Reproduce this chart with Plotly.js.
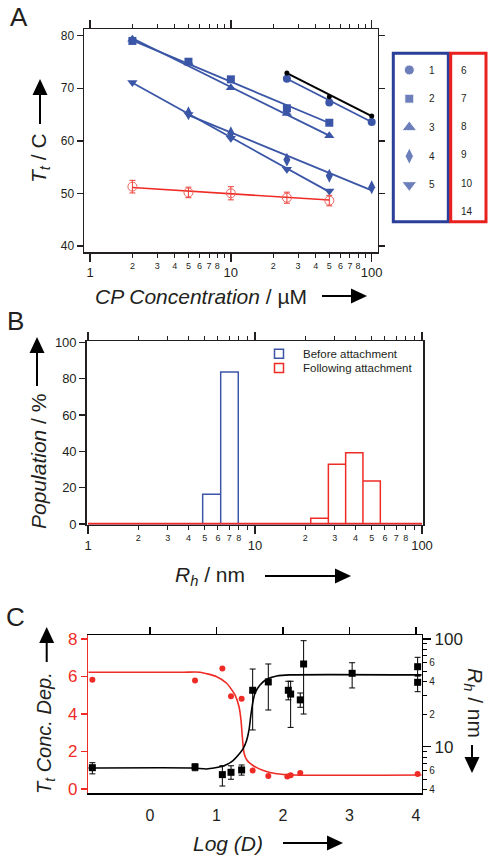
<!DOCTYPE html>
<html><head><meta charset="utf-8">
<script src="https://cdn.plot.ly/plotly-3.0.1.min.js"></script>
<style>html,body{margin:0;padding:0;background:#fff}#plot{width:493px;height:860px}</style>
</head><body><div id="plot"></div>
<script>
// ---------------- Panel A : Tt vs CP concentration ----------------
const a1X=[25,50,100],        a1Y=[71.8,67.3,63.6];              // 1 circles
const a2X=[2,5,10,25,50],     a2Y=[79.0,75.05,71.7,66.2,63.45];  // 2 squares
const a3X=[2,5,10,25,50],     a3Y=[79.3,74.9,70.1,65.2,61.0];    // 3 triangles up
const a4X=[5,10,25,50,100],   a4Y=[65.25,61.44,56.4,53.35,51.2]; // 4 diamonds
const a5X=[2,5,10,25,50],     a5Y=[71.1,65.0,60.5,54.6,50.45];   // 5 triangles down
const aBlkX=[25,50,100],      aBlkY=[72.9,68.4,64.75];           // black
const aRedX=[2,5,10,25,50],   aRedY=[51.3,50.2,50.04,49.2,48.65], aRedErr=[1.2,1.0,1.25,1.05,1.0];
// linear fits (end points)
const f1X=[25,100], f1Y=[71.8,63.6];
const f2X=[2,50],   f2Y=[79.1,63.4];
const f3X=[2,50],   f3Y=[79.5,61.0];
const f4X=[5,100],  f4Y=[64.9,50.6];
const f5X=[2,50],   f5Y=[71.05,50.3];
const fBlkX=[25,100], fBlkY=[72.9,64.7];
const fRedX=[2,50], fRedY=[51.15,48.75];
const legendBlue=['1','2','3','4','5'];
const legendRed=['6','7','8','9','10','14'];
const legendSymbols=['circle','square','triangle-up','diamond-tall','triangle-down'];

// ---------------- Panel B : Rh histograms ----------------
const blueEdges=[4.86,6.23,7.94],  blueHeights=[16.3,83.6];
const redEdges=[21.56,27.5,34.9,44.3,56.3], redHeights=[3.1,32.85,39.2,23.7];
const baseX=[1,100], baseY=[0,0];
const bLegend=['Before attachment','Following attachment'];

// ---------------- Panel C : vs Log(D) ----------------
const cRedX=[-0.867,0.677,1.088,1.218,1.378,1.544,1.779,2.065,2.115,2.26,4.025];
const cRedY=[5.83,5.78,6.42,4.95,4.81,0.99,0.69,0.67,0.74,0.85,0.80];
const cRhX=[-0.867,0.677,1.088,1.218,1.378,1.544,1.779,2.08,2.115,2.26,2.31,3.04,4.025,4.025];
const cRhY=[6.38,6.48,5.50,5.78,6.08,33.4,39.9,33.4,30.8,27.2,58.6,48.0,55.3,39.6];
const cRhErrP=[0.72,0.44,1.15,0.87,0.68,19.2,18.7,7.1,9.7,4.3,37.8,12.2,12.3,6.0];
const cRhErrM=[0.79,0.50,1.19,0.80,0.64,19.1,18.0,6.2,15.7,4.0,38.5,12.9,10.0,7.2];
const redFitX=[-0.928,0.5,0.752,1.003,1.153,1.278,1.338,1.368,1.388,1.414,1.454,1.554,1.704,1.905,2.155,4.086];
const redFitY=[6.23,6.23,6.23,5.99,5.64,5.02,4.40,3.69,2.80,1.92,1.56,1.24,0.99,0.81,0.745,0.745];
const rhFitX=[-0.928,0.652,0.852,1.103,1.228,1.328,1.403,1.454,1.489,1.514,1.544,1.579,1.654,1.755,1.905,2.105,4.086];
const rhFitY=[6.34,6.34,6.21,6.62,7.26,8.37,9.66,11.5,14.3,19.0,25.3,31.3,37.4,42.3,45.3,46.4,46.4];

// ---------------- helpers ----------------
const W=493, H=860;
const fx=p=>p/W, fy=p=>1-p/H;
const BLUE='#3b56a6', RED='#ee2b25', INK='#231f20';
const FT='Liberation Sans, Arial, sans-serif';
const traces=[];
function add(t){t.hoverinfo='skip';t.showlegend=false;traces.push(t);}

// Panel A traces
[[f1X,f1Y],[f2X,f2Y],[f3X,f3Y],[f4X,f4Y],[f5X,f5Y]].forEach(([x,y])=>add({x,y,xaxis:'x',yaxis:'y',mode:'lines',line:{color:BLUE,width:1.8}}));
add({x:fBlkX,y:fBlkY,xaxis:'x',yaxis:'y',mode:'lines',line:{color:'#000',width:2}});
add({x:fRedX,y:fRedY,xaxis:'x',yaxis:'y',mode:'lines',line:{color:RED,width:1.6}});
const aSeries=[[a1X,a1Y],[a2X,a2Y],[a3X,a3Y],[a4X,a4Y],[a5X,a5Y]];
const aSizes=[8,8,9,10,9];
aSeries.forEach(([x,y],i)=>add({x,y,xaxis:'x',yaxis:'y',mode:'markers',cliponaxis:false,marker:{symbol:legendSymbols[i],size:aSizes[i],color:BLUE}}));
add({x:aBlkX,y:aBlkY,xaxis:'x',yaxis:'y',mode:'markers',cliponaxis:false,marker:{symbol:'circle',size:5,color:'#000'}});
add({x:aRedX,y:aRedY,xaxis:'x',yaxis:'y',mode:'markers',cliponaxis:false,
  marker:{symbol:'circle-open',size:9,color:'#f0605a',line:{width:1}},
  error_y:{type:'data',array:aRedErr,visible:true,color:'#ec3b35',thickness:1,width:3}});
add({x:[],y:[],xaxis:'x2',yaxis:'y',mode:'markers'});

// Panel A legend glyphs (hidden axes)
add({x:legendBlue.map(()=>16.3),y:legendBlue.map((_,i)=>i),xaxis:'x7',yaxis:'y2',mode:'markers',cliponaxis:false,
  marker:{symbol:legendSymbols,size:[10,9,13,12,13],color:'#2f4a9e'}});

// Panel B traces
function outline(edges,heights){const x=[],y=[];heights.forEach((h,i)=>{x.push(edges[i],edges[i],edges[i+1],edges[i+1]);y.push(0,h,h,0);});return {x,y};}
add({x:baseX,y:baseY,xaxis:'x3',yaxis:'y3',mode:'lines',line:{color:BLUE,width:2}});
const ob=outline(blueEdges,blueHeights);
add({x:ob.x,y:ob.y,xaxis:'x3',yaxis:'y3',mode:'lines',line:{color:BLUE,width:1.5}});
add({x:baseX,y:baseY,xaxis:'x3',yaxis:'y3',mode:'lines',line:{color:RED,width:2.5}});
const orr=outline(redEdges,redHeights);
add({x:orr.x,y:orr.y,xaxis:'x3',yaxis:'y3',mode:'lines',line:{color:RED,width:1.5}});
add({x:[],y:[],xaxis:'x4',yaxis:'y3',mode:'markers'});
add({x:[9,9],y:[0,1],xaxis:'x8',yaxis:'y4',mode:'markers',cliponaxis:false,
  marker:{symbol:'square-open',size:9,color:[BLUE,RED],line:{width:1.5}}});

// Panel C traces
add({x:redFitX,y:redFitY,xaxis:'x5',yaxis:'y5',mode:'lines',line:{color:RED,width:1.6,shape:'spline',smoothing:0.6}});
add({x:rhFitX,y:rhFitY,xaxis:'x5',yaxis:'y6',mode:'lines',line:{color:'#000',width:1.6,shape:'spline',smoothing:0.6}});
add({x:cRedX,y:cRedY,xaxis:'x5',yaxis:'y5',mode:'markers',cliponaxis:false,marker:{symbol:'circle',size:6,color:RED}});
add({x:cRhX,y:cRhY,xaxis:'x5',yaxis:'y6',mode:'markers',cliponaxis:false,marker:{symbol:'square',size:7,color:'#000'},
  error_y:{type:'data',symmetric:false,array:cRhErrP,arrayminus:cRhErrM,visible:true,color:'#000',thickness:1,width:3}});
add({x:[],y:[],xaxis:'x6',yaxis:'y5',mode:'markers'});
add({x:[],y:[],xaxis:'x5',yaxis:'y7',mode:'markers'});

// ---------------- axes ----------------
const logMinorVals=[2,3,4,5,6,7,8,20,30,40,50,60,70,80];
const logMinorText=['2','3','4','5','6','7','8','2','3','4','5','6','7','8'];
const base={showgrid:false,zeroline:false,linecolor:INK,tickcolor:INK,linewidth:1.5,tickwidth:1.3,showline:true,ticks:'outside',tickmode:'array',fixedrange:true};
function logMajor(domain,anchor,range){return Object.assign({},base,{domain,anchor,type:'log',range,tickvals:[1,10,100],ticktext:['1','10','100'],ticklen:8,mirror:'ticks',tickfont:{family:FT,size:13,color:INK}});}
function logMinor(over,anchor,range){return Object.assign({},base,{overlaying:over,anchor,side:'bottom',type:'log',range,tickvals:logMinorVals,ticktext:logMinorText,ticklen:4,tickwidth:1,mirror:'ticks',
  minor:{tickmode:'array',tickvals:[9,90],ticks:'outside',ticklen:4,tickwidth:1,tickcolor:INK,showgrid:false},tickfont:{family:FT,size:9,color:INK}});}
const hidden=(domain,range,anchor)=>({domain,range,anchor,visible:false,showgrid:false,zeroline:false,fixedrange:true});

const layout={
  width:W,height:H,autosize:false,margin:{l:0,r:0,t:0,b:0},
  paper_bgcolor:'#fff',plot_bgcolor:'rgba(0,0,0,0)',showlegend:false,
  xaxis:logMajor([fx(84),fx(377.7)],'y',[-0.0426,2.0426]),
  xaxis2:logMinor('x','y',[-0.0426,2.0426]),
  yaxis:Object.assign({},base,{domain:[fy(252.3),fy(29)],anchor:'x',range:[38.82,81.27],tickvals:[40,50,60,70,80],ticklen:6,mirror:'ticks',tickfont:{family:FT,size:12,color:INK}}),
  xaxis3:logMajor([fx(86.7),fx(423.3)],'y3',[-0.0078,2.0078]),
  xaxis4:logMinor('x3','y3',[-0.0078,2.0078]),
  yaxis3:Object.assign({},base,{domain:[fy(524.5),fy(341)],anchor:'x3',range:[-0.28,100.7],tickvals:[0,20,40,60,80,100],ticklen:6,mirror:true,tickfont:{family:FT,size:13,color:INK}}),
  xaxis5:Object.assign({},base,{domain:[fx(88.3),fx(421.7)],anchor:'y5',range:[-0.928,4.086],tickvals:[0,1,2,3,4],ticklen:7,tickcolor:'rgba(0,0,0,0)',tickfont:{family:FT,size:16,color:INK},linecolor:'#000'}),
  xaxis6:Object.assign({},base,{overlaying:'x5',anchor:'y5',side:'top',range:[-0.928,4.086],tickvals:[0,1,2,3,4],ticklen:7,showticklabels:false,linecolor:'#000',tickcolor:'#000'}),
  yaxis5:Object.assign({},base,{domain:[fy(793.3),fy(635)],anchor:'x5',range:[-0.229,8.213],tickvals:[0,2,4,6,8],ticklen:6,linecolor:RED,tickcolor:RED,tickfont:{family:FT,size:17,color:RED}}),
  yaxis6:Object.assign({},base,{overlaying:'y5',anchor:'x5',side:'right',type:'log',range:[0.567,2.037],tickvals:[10,100],ticktext:['10','100'],ticklen:8,linecolor:'#000',tickcolor:'#000',tickfont:{family:FT,size:17,color:INK}}),
  yaxis7:Object.assign({},base,{overlaying:'y5',anchor:'x5',side:'right',type:'log',range:[0.567,2.037],tickvals:[4,6,20,40,60],ticktext:['4','6','2','4','6'],ticklen:4,tickwidth:1,linecolor:'#000',tickcolor:'#000',
    minor:{tickmode:'array',tickvals:[5,7,8,9,30,50,70,80,90],ticks:'outside',ticklen:4,tickwidth:1,tickcolor:'#000',showgrid:false},tickfont:{family:FT,size:10,color:INK}}),
  xaxis7:hidden([fx(393),fx(448)],[0,55],'y2'),
  yaxis2:hidden([fy(221.7),fy(53.3)],[5.28,-0.58],'x7'),
  xaxis8:hidden([fx(270),fx(290)],[0,20],'y4'),
  yaxis4:hidden([fy(375),fy(347)],[1.49,-0.468],'x8'),
  annotations:[],shapes:[]
};

function ann(text,x,y,o){layout.annotations.push(Object.assign({text,x:fx(x),y:fy(y),xref:'paper',yref:'paper',showarrow:false,xanchor:'center',yanchor:'middle',font:{family:FT,size:21,color:INK}},o||{}));}
// panel letters
ann('A',19,17,{font:{family:FT,size:26,color:INK}});
ann('B',15,321,{font:{family:FT,size:26,color:INK}});
ann('C',15,617,{font:{family:FT,size:26,color:INK}});
// axis titles
ann('<i>CP Concentration</i> / µM',201,296);
ann('<i>T</i><sub><i>t</i></sub> / C',40,158,{textangle:-90});
ann('<i>Population</i> / %',38,462,{textangle:-90});
ann('<i>R</i><sub><i>h</i></sub> / nm',210,576);
ann('<i>T</i><sub><i>t</i></sub><i> Conc. Dep.</i>',45,733,{textangle:-90,font:{family:FT,size:20,color:INK}});
ann('<i>Log (D)</i>',228,843);
ann('<i>R</i><sub><i>h</i></sub> / nm',474,703,{textangle:90});
// legend labels A
legendBlue.forEach((t,i)=>ann(t,432,70+28.75*i,{font:{family:FT,size:10,color:INK}}));
legendRed.forEach((t,i)=>ann(t,459,70+28.25*i,{xanchor:'left',font:{family:FT,size:10,color:INK}}));
// legend labels B
bLegend.forEach((t,i)=>ann(t,301,353.7+14.3*i,{xanchor:'left',font:{family:FT,size:11.5,color:INK}}));

// legend boxes
layout.shapes.push({type:'rect',xref:'paper',yref:'paper',x0:fx(393.3),x1:fx(448.3),y0:fy(221.7),y1:fy(53.3),line:{color:'#2a3f98',width:3}});
layout.shapes.push({type:'rect',xref:'paper',yref:'paper',x0:fx(450.7),x1:fx(486),y0:fy(221.7),y1:fy(53.3),line:{color:'#e8211f',width:3}});

// arrows
function arrow(x1,y1,x2,y2){
  const L=16,hw=7.5;const dx=x2-x1,dy=y2-y1,len=Math.hypot(dx,dy),ux=dx/len,uy=dy/len;
  const bx=x2-ux*L,by=y2-uy*L;
  layout.shapes.push({type:'line',xref:'paper',yref:'paper',x0:fx(x1),y0:fy(y1),x1:fx(bx+ux*2),y1:fy(by+uy*2),line:{color:'#000',width:2}});
  const p1=[bx-uy*hw,by+ux*hw],p2=[bx+uy*hw,by-ux*hw];
  layout.shapes.push({type:'path',xref:'paper',yref:'paper',path:`M ${fx(x2)} ${fy(y2)} L ${fx(p1[0])} ${fy(p1[1])} L ${fx(p2[0])} ${fy(p2[1])} Z`,fillcolor:'#000',line:{width:0}});
}
arrow(322,296,367,296);
arrow(40,124,40,79);
arrow(37,386,37,337);
arrow(265,576,351,576);
arrow(46.7,662,46.7,627);
arrow(472,745,472,773);
arrow(283,843,343,843);

Plotly.newPlot('plot',traces,layout,{staticPlot:true,displayModeBar:false});
</script></body></html>
